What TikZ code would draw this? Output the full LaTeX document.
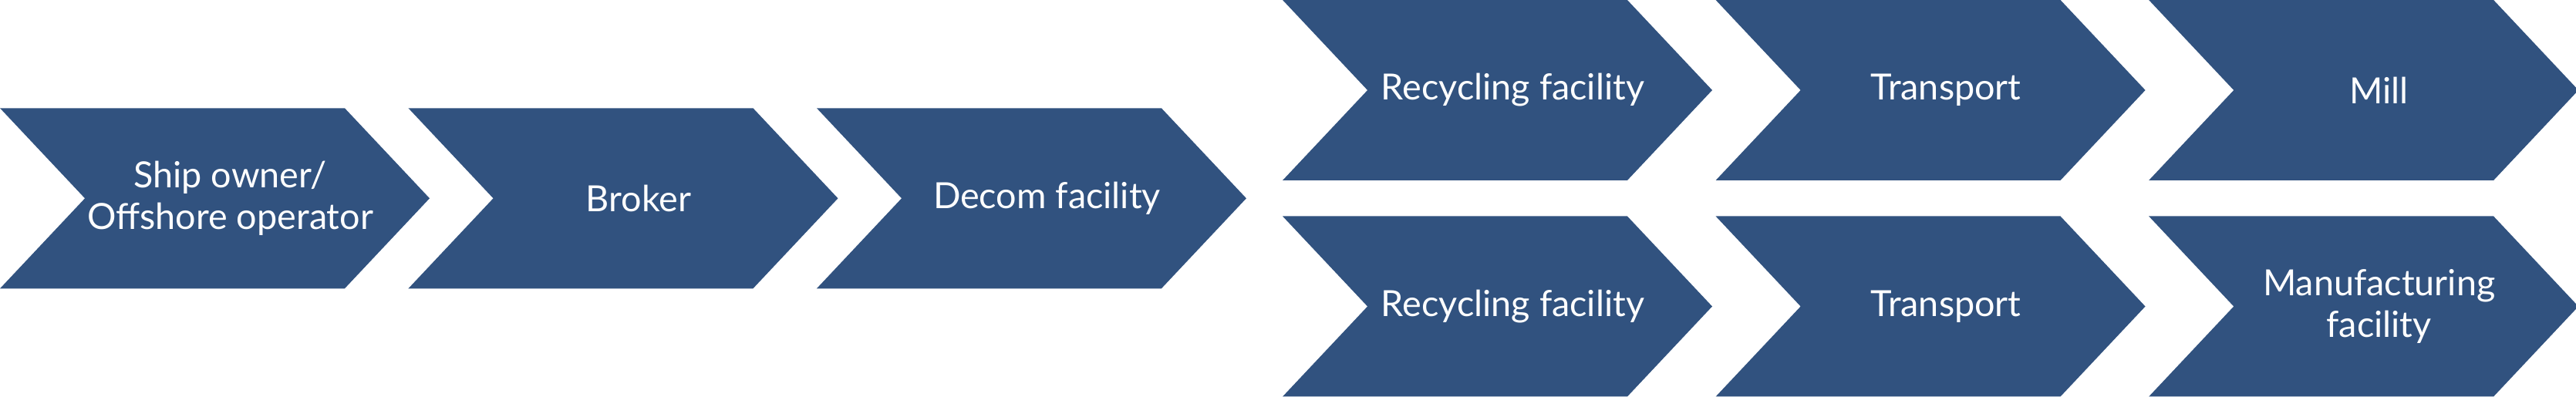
\documentclass[tikz,border=0pt]{standalone}
\usepackage{fontspec}
\setmainfont{Lato}
\usetikzlibrary{shapes.symbols}
\usetikzlibrary{positioning}

\definecolor{chevblue}{HTML}{31527F}

\tikzset{
  chevtext/.style={xshift=0.2cm, inner sep=0pt, text=white, align=center,
    font=\fontsize{13.3}{15.4}\selectfont},
  chev/.style={signal, signal from=west, signal to=east,
    signal pointer angle=93.5, fill=chevblue,
    minimum width=5.57cm, minimum height=2.34cm, inner sep=0pt,
    label={[chevtext]center:{#1}}}
}

\begin{document}
\begin{tikzpicture}
  \useasboundingbox (0,0) rectangle (33.4,5.15);
  % main chain
  \node[chev={Ship owner/\\Offshore operator}] (owner) at (2.785,2.577) {};
  \node[chev={Broker}, right=0.806cm of owner] (broker) {};
  \node[chev={Decom facility}, right=0.806cm of broker] (decom) {};
  % upper branch
  \node[chev={Recycling facility}] (recyclea) at (19.415,3.98) {};
  \node[chev={Transport}, right=1.127cm of recyclea] (transporta) {};
  \node[chev={Mill}, right=1.127cm of transporta] (mill) {};
  % lower branch
  \node[chev={Recycling facility}] (recycleb) at (19.415,1.175) {};
  \node[chev={Transport}, right=1.127cm of recycleb] (transportb) {};
  \node[chev={Manufacturing\\facility}, right=1.127cm of transportb] (manuf) {};
\end{tikzpicture}
\end{document}
